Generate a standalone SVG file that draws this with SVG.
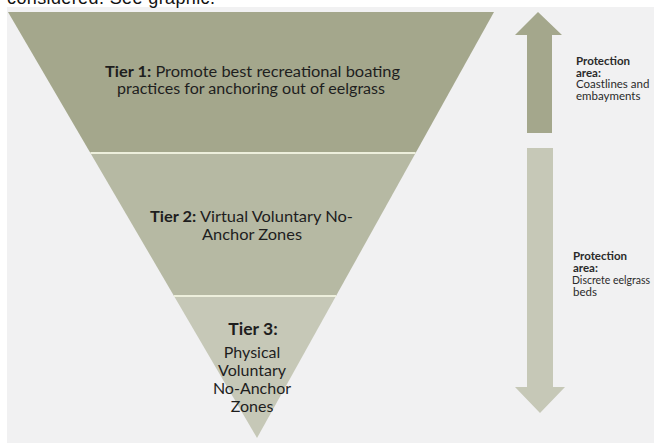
<svg xmlns="http://www.w3.org/2000/svg" width="654" height="443" viewBox="0 0 654 443">
<style>
.t{font-family:Lato,"Open Sans","Liberation Sans",sans-serif;fill:#1e1e1e}
.b{font-weight:bold}
.lbl{font-family:Lato,"Open Sans","Liberation Sans",sans-serif;fill:#2a2a2a;font-size:11.5px}
.div{stroke:#edefdc;stroke-width:2}
</style>
<rect x="0" y="0" width="654" height="443" fill="#ffffff"/>
<rect x="7" y="7" width="647" height="436" fill="#f1f1f2"/>
<text x="7" y="3.5" font-family="Liberation Sans, sans-serif" font-size="18" fill="#111" textLength="208">considered. See graphic.</text>
<g id="tier1">
<polygon points="8,12 494,12 415.6,153 90.4,153" fill="#a4a78c"/>
<text class="t" x="105" y="77" font-size="15.5" textLength="295" lengthAdjust="spacingAndGlyphs"><tspan class="b">Tier 1:</tspan> Promote best recreational boating</text>
<text class="t" x="117" y="94" font-size="15.5" textLength="268" lengthAdjust="spacingAndGlyphs">practices for anchoring out of eelgrass</text>
</g>
<g id="tier2">
<polygon points="90.4,153 415.6,153 336,296 174,296" fill="#b6b9a3"/>
<text class="t" x="150" y="222" font-size="16" textLength="203" lengthAdjust="spacingAndGlyphs"><tspan class="b">Tier 2:</tspan> Virtual Voluntary No-</text>
<text class="t" x="252" y="239.5" font-size="16" text-anchor="middle" textLength="100" lengthAdjust="spacingAndGlyphs">Anchor Zones</text>
</g>
<g id="tier3">
<polygon points="174,296 336,296 257,438" fill="#c6c8b7"/>
<text class="t b" x="253" y="335" font-size="17.5" text-anchor="middle">Tier 3:</text>
<text class="t" x="252" y="358" font-size="16" text-anchor="middle">Physical</text>
<text class="t" x="252" y="376" font-size="16" text-anchor="middle">Voluntary</text>
<text class="t" x="252" y="394" font-size="16" text-anchor="middle">No-Anchor</text>
<text class="t" x="252" y="412" font-size="16" text-anchor="middle">Zones</text>
</g>
<g id="connectors">
<line class="div" x1="90.4" y1="153" x2="415.6" y2="153"/>
<line class="div" x1="174" y1="296" x2="336" y2="296"/>
<polygon id="arrow-up" points="538,12 562,35 552,35 552,133 527,133 527,35 515,35" fill="#a4a78c"/>
<polygon id="arrow-down" points="527,148 553,148 553,387 565,387 540,413 515,387 527,387" fill="#c6c8b7"/>
</g>
<g id="label-top">
<text class="lbl b" x="576" y="65" fill="#111">Protection</text>
<text class="lbl b" x="576" y="76.5" fill="#111">area:</text>
<text class="lbl" x="576" y="88">Coastlines and</text>
<text class="lbl" x="576" y="99.5">embayments</text>
</g>
<g id="label-bottom">
<text class="lbl b" x="573" y="260" fill="#111">Protection</text>
<text class="lbl b" x="573" y="271.5" fill="#111">area:</text>
<text class="lbl" x="572" y="284" style="font-size:11px" textLength="78" lengthAdjust="spacingAndGlyphs">Discrete eelgrass</text>
<text class="lbl" x="573" y="295.5">beds</text>
</g>
</svg>
